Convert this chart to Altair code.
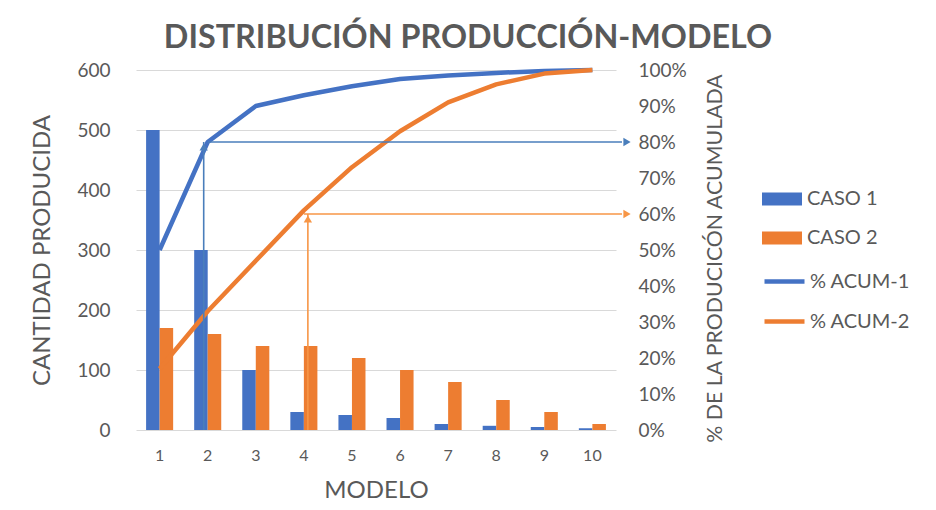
import altair as alt
import pandas as pd

modelos = [1, 2, 3, 4, 5, 6, 7, 8, 9, 10]
caso1 = [500, 300, 100, 30, 25, 20, 10, 7, 5, 3]
caso2 = [170, 160, 140, 140, 120, 100, 80, 50, 30, 10]
acum1 = [0.50, 0.80, 0.90, 0.93, 0.955, 0.975, 0.985, 0.992, 0.997, 1.0]
acum2 = [0.17, 0.33, 0.47, 0.61, 0.73, 0.83, 0.91, 0.96, 0.99, 1.0]
bar_series = ["CASO 1", "CASO 2"]
line_series = ["% ACUM-1", "% ACUM-2"]
arrow_modelo = [2, 4]
arrow_pct = [0.80, 0.60]
titulo = ["DISTRIBUCIÓN PRODUCCIÓN-MODELO"]

BLUE = "#4472C4"
ORANGE = "#ED7D31"
ARROW_COLORS = ["#4A7EBB", "#F79646"]
ARROW_SHIFT = [-4, 4]
TXT = "#595959"
GRID = "#D9D9D9"
FONT = "Lato"

bars_df = pd.DataFrame(
    {"modelo": modelos * 2,
     "serie": [bar_series[0]] * 10 + [bar_series[1]] * 10,
     "valor": caso1 + caso2}
)
lines_df = pd.DataFrame(
    {"modelo": modelos * 2,
     "serie": [line_series[0]] * 10 + [line_series[1]] * 10,
     "pct": acum1 + acum2}
)

W, H = 480, 360

x_enc = alt.X(
    "modelo:O",
    scale=alt.Scale(paddingInner=0.4375, paddingOuter=0.21),
    axis=alt.Axis(
        title="MODELO", labelAngle=0, labelFontSize=16, labelColor=TXT,
        labelBaseline="middle", labelPadding=25, ticks=False, domain=False,
        grid=False, titleFontSize=24, titleColor=TXT, titleFontWeight="normal",
        titleX=240, titleY=60, titleBaseline="middle", titleAlign="center",
    ),
)

bars = alt.Chart(bars_df).mark_bar().encode(
    x=x_enc,
    xOffset=alt.XOffset("serie:N", sort=bar_series),
    y=alt.Y(
        "valor:Q",
        scale=alt.Scale(domain=[0, 600]),
        axis=alt.Axis(
            values=[0, 100, 200, 300, 400, 500, 600], orient="left",
            title="CANTIDAD PRODUCIDA", grid=True, gridColor=GRID,
            domain=False, ticks=False, labelPadding=26, labelFontSize=19,
            labelColor=TXT, titleFontSize=24, titleColor=TXT,
            titleFontWeight="normal", titleAngle=270, titleX=-94, titleY=180,
            titleBaseline="middle", titleAlign="center",
        ),
    ),
    fill=alt.Fill(
        "serie:N",
        scale=alt.Scale(domain=bar_series, range=[BLUE, ORANGE]),
        legend=alt.Legend(
            title=None, orient="none", legendX=626, legendY=109,
            symbolType="M-1,-0.325L1,-0.325L1,0.325L-1,0.325Z",
            symbolSize=1600, symbolStrokeWidth=0, labelFontSize=20,
            labelColor=TXT, rowPadding=9, labelOffset=5,
        ),
    ),
)

lines = alt.Chart(lines_df).mark_line(strokeWidth=4.5, strokeJoin="round").encode(
    x=alt.X("modelo:O"),
    y=alt.Y(
        "pct:Q",
        scale=alt.Scale(domain=[0, 1]),
        axis=alt.Axis(
            orient="right", format="%", values=[i / 10 for i in range(11)],
            grid=False, domain=False, ticks=False, labelPadding=22,
            labelFontSize=19, labelColor=TXT,
            title="% DE LA PRODUCICÓN ACUMULADA", titleFontSize=21.3,
            titleColor=TXT, titleFontWeight="normal", titleAngle=270,
            titleX=99, titleY=188, titleBaseline="middle", titleAlign="center",
        ),
    ),
    stroke=alt.Stroke(
        "serie:N",
        scale=alt.Scale(domain=line_series, range=[BLUE, ORANGE]),
        legend=alt.Legend(
            title=None, orient="none", legendX=626, legendY=189,
            symbolType="M-1,0L1,0", symbolSize=1600, symbolStrokeWidth=4.5,
            labelFontSize=20, labelColor=TXT, rowPadding=7, labelOffset=3,
        ),
    ),
)

arrow_layers = []
for m, p, c, s in zip(arrow_modelo, arrow_pct, ARROW_COLORS, ARROW_SHIFT):
    adf = pd.DataFrame({"modelo": [m], "pct": [p]})
    ysc = alt.Scale(domain=[0, 1])
    vert = alt.Chart(adf).mark_rule(color=c, strokeWidth=1.6, xOffset=s).encode(
        x="modelo:O",
        y=alt.Y("pct:Q", scale=ysc, axis=None),
        y2=alt.value(H),
    )
    horiz = alt.Chart(adf).mark_rule(color=c, strokeWidth=1.6).encode(
        x=alt.X("modelo:O"),
        x2=alt.value(W + 6),
        y=alt.Y("pct:Q", scale=ysc, axis=None),
    )
    head_up = alt.Chart(adf).mark_point(
        shape="triangle-up", filled=True, color=c, opacity=1, size=70,
        xOffset=s, yOffset=5,
    ).encode(x="modelo:O", y=alt.Y("pct:Q", scale=ysc, axis=None))
    head_right = alt.Chart(adf).mark_point(
        shape="triangle-right", filled=True, color=c, opacity=1, size=70,
    ).encode(x=alt.value(W + 11), y=alt.Y("pct:Q", scale=ysc, axis=None))
    arrow_layers += [vert, horiz, head_up, head_right]

title_layer = alt.Chart(pd.DataFrame({"t": titulo})).mark_text(
    fontSize=32.3, fontWeight="bold", color=TXT, font=FONT,
    align="center", baseline="middle",
).encode(text="t:N", x=alt.value(332), y=alt.value(-32))

chart = alt.layer(bars, lines, *arrow_layers, title_layer).resolve_scale(
    y="independent"
).properties(
    width=W,
    height=H,
    autosize=alt.AutoSizeParams(type="none"),
    padding={"left": 128, "top": 62, "right": 312, "bottom": 78},
).configure(
    font=FONT,
    background="white",
).configure_view(
    stroke=None
)

chart.save("out.html", embed_options={"renderer": "svg", "actions": False})
